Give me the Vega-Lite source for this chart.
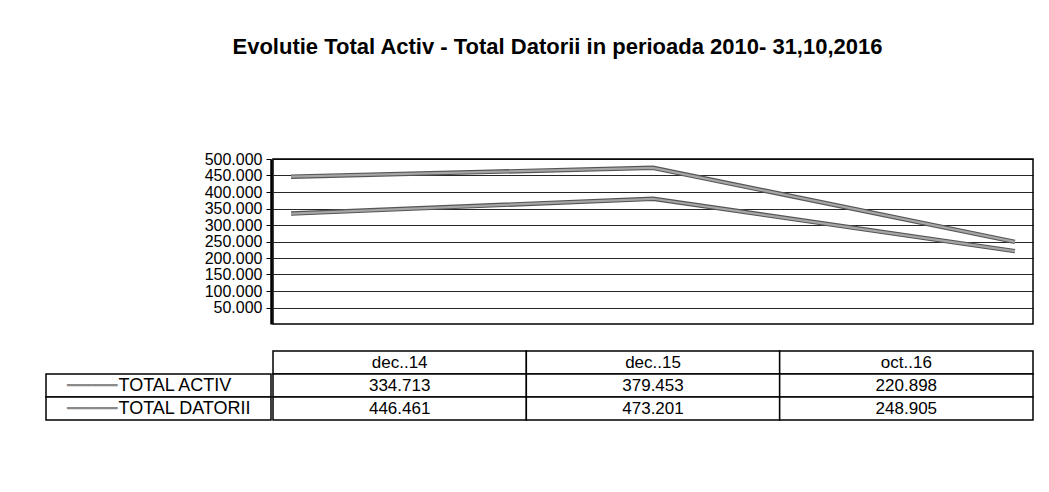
{
  "$schema": "https://vega.github.io/schema/vega-lite/v6.json",
  "background": "white",
  "padding": {"left": 45, "top": 36, "right": 15, "bottom": 10},
  "config": {
    "font": "Liberation Sans",
    "locale": {"number": {"decimal": ",", "thousands": ".", "grouping": [3], "currency": ["", " lei"]}},
    "view": {"stroke": null},
    "concat": {"spacing": 25}
  },
  "title": {
    "text": "Evolutie Total Activ - Total Datorii in perioada 2010- 31,10,2016",
    "font": "Liberation Sans",
    "fontSize": 22,
    "fontWeight": "bold",
    "color": "black",
    "anchor": "middle",
    "dx": 18,
    "offset": 92
  },
  "datasets": {
    "series": [
      {"luna": "dec..14", "indicator": "TOTAL ACTIV", "valoare": 334713},
      {"luna": "dec..15", "indicator": "TOTAL ACTIV", "valoare": 379453},
      {"luna": "oct..16", "indicator": "TOTAL ACTIV", "valoare": 220898},
      {"luna": "dec..14", "indicator": "TOTAL DATORII", "valoare": 446461},
      {"luna": "dec..15", "indicator": "TOTAL DATORII", "valoare": 473201},
      {"luna": "oct..16", "indicator": "TOTAL DATORII", "valoare": 248905}
    ],
    "luni": [{"luna": "dec..14"}, {"luna": "dec..15"}, {"luna": "oct..16"}],
    "randuri": [{"indicator": "TOTAL ACTIV"}, {"indicator": "TOTAL DATORII"}]
  },
  "vconcat": [
    {
      "spacing": 0,
      "hconcat": [
        {
          "width": 225,
          "height": 165,
          "data": {"name": "series"},
          "mark": {"type": "point", "opacity": 0},
          "encoding": {
            "y": {
              "field": "valoare",
              "type": "quantitative",
              "scale": {"domain": [0, 500000], "nice": false, "zero": true},
              "axis": {
                "orient": "left",
                "offset": -225,
                "values": [50000, 100000, 150000, 200000, 250000, 300000, 350000, 400000, 450000, 500000],
                "format": ",.0f",
                "title": null,
                "grid": false,
                "labelFont": "Liberation Sans",
                "labelFontSize": 16,
                "labelColor": "black",
                "labelPadding": 4,
                "labelOverlap": false,
                "labelBound": false,
                "tickColor": "black",
                "tickSize": 5,
                "domainColor": "black",
                "domainWidth": 2.5
              }
            }
          }
        },
        {
          "width": 760,
          "height": 165,
          "view": {"stroke": "black", "strokeWidth": 1.5},
          "data": {"name": "series"},
          "encoding": {
            "x": {
              "field": "luna",
              "type": "ordinal",
              "scale": {"type": "point", "padding": 0.05, "domain": ["dec..14", "dec..15", "oct..16"]},
              "axis": null
            },
            "y": {
              "field": "valoare",
              "type": "quantitative",
              "scale": {"domain": [0, 500000], "nice": false, "zero": true},
              "axis": {
                "values": [50000, 100000, 150000, 200000, 250000, 300000, 350000, 400000, 450000, 500000],
                "title": null,
                "labels": false,
                "ticks": false,
                "domain": false,
                "gridColor": "black",
                "gridOpacity": 0.85,
                "gridWidth": 1,
                "minExtent": 0,
                "maxExtent": 0
              }
            },
            "detail": {"field": "indicator"}
          },
          "layer": [
            {"mark": {"type": "line", "color": "#555555", "strokeWidth": 4.5}},
            {"mark": {"type": "line", "color": "#a6a6a6", "strokeWidth": 2.2}}
          ]
        }
      ]
    },
    {
      "spacing": 0,
      "hconcat": [
        {
          "width": 225,
          "height": 69,
          "data": {"name": "randuri"},
          "encoding": {
            "y": {
              "field": "indicator",
              "type": "nominal",
              "scale": {"domain": ["antet", "TOTAL ACTIV", "TOTAL DATORII"], "paddingInner": 0, "paddingOuter": 0},
              "axis": null
            }
          },
          "layer": [
            {"mark": {"type": "rect", "fill": "white", "stroke": "black", "strokeWidth": 1.5}},
            {
              "mark": {"type": "text", "align": "right", "dx": -41, "font": "DejaVu Sans Mono", "fontSize": 14, "color": "#8a8a8a"},
              "encoding": {"text": {"value": "━━━━━━"}}
            },
            {
              "mark": {"type": "text", "align": "left", "dx": -40, "fontSize": 18, "color": "black"},
              "encoding": {"text": {"field": "indicator"}}
            }
          ]
        },
        {
          "width": 760,
          "height": 69,
          "encoding": {
            "x": {
              "field": "luna",
              "type": "nominal",
              "scale": {"domain": ["dec..14", "dec..15", "oct..16"], "paddingInner": 0, "paddingOuter": 0},
              "axis": null
            }
          },
          "layer": [
            {
              "data": {"name": "luni"},
              "encoding": {
                "y": {
                  "datum": "antet",
                  "type": "nominal",
                  "scale": {"domain": ["antet", "TOTAL ACTIV", "TOTAL DATORII"], "paddingInner": 0, "paddingOuter": 0},
                  "axis": null
                }
              },
              "layer": [
                {"mark": {"type": "rect", "fill": "white", "stroke": "black", "strokeWidth": 1.5}},
                {
                  "mark": {"type": "text", "fontSize": 17, "color": "black"},
                  "encoding": {"text": {"field": "luna"}}
                }
              ]
            },
            {
              "data": {"name": "series"},
              "encoding": {
                "y": {"field": "indicator", "type": "nominal", "axis": null}
              },
              "layer": [
                {"mark": {"type": "rect", "fill": "white", "stroke": "black", "strokeWidth": 1.5}},
                {
                  "mark": {"type": "text", "fontSize": 17, "color": "black"},
                  "encoding": {"text": {"field": "valoare", "type": "quantitative", "format": ",.0f"}}
                }
              ]
            }
          ]
        }
      ]
    }
  ]
}
